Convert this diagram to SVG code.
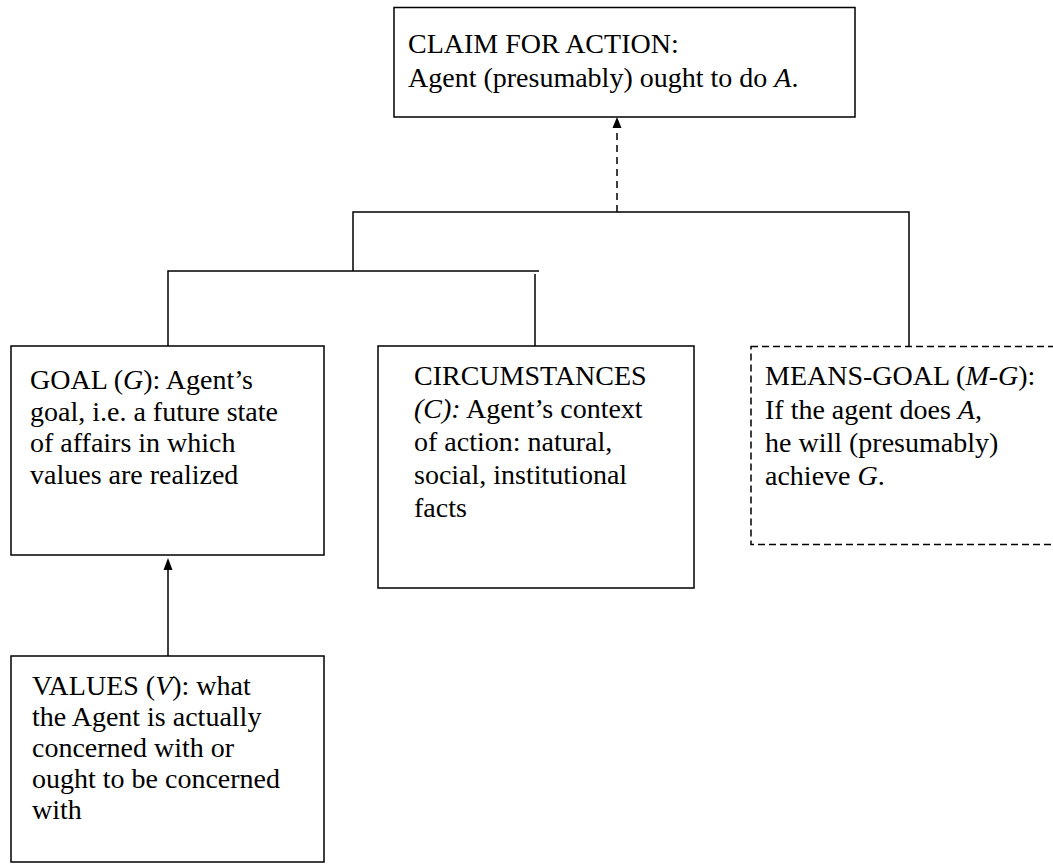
<svg xmlns="http://www.w3.org/2000/svg" width="1053" height="864" viewBox="0 0 1053 864">
<defs>
<style>
.box{fill:#fff;stroke:#000;stroke-width:1.5}
.dbox{fill:#fff;stroke:#000;stroke-width:1.5;stroke-dasharray:7 4}
.ln{fill:none;stroke:#000;stroke-width:1.5}
.dln{fill:none;stroke:#000;stroke-width:1.5;stroke-dasharray:7 5}
text{font-family:"Liberation Serif","Times New Roman",serif;font-size:28px;fill:#000}
.i{font-style:italic}
</style>
<marker id="ah" viewBox="0 0 10 12" refX="5" refY="0" markerWidth="10" markerHeight="12" markerUnits="userSpaceOnUse" orient="auto-start-reverse">
<path d="M0,12 L5,0 L10,12 Z" fill="#000"/>
</marker>
</defs>
<rect width="1053" height="864" fill="#fff"/>
<g id="connectors">
<path class="dln" d="M617,212 V119"/>
<path d="M617,117 L612.5,128 L621.5,128 Z" fill="#000"/>
<path class="ln" d="M353,271 V212 H909 V346"/>
<path class="ln" d="M168,346 V271 H539"/>
<path class="ln" d="M535,274 V346"/>
<path class="ln" d="M168,656 V568"/>
<path d="M168,558 L163.5,570 L172.5,570 Z" fill="#000"/>
</g>
<g id="claim">
<rect class="box" x="394" y="7.5" width="461" height="109.5"/>
<text x="408" y="53">CLAIM FOR ACTION:</text>
<text x="408" y="87">Agent (presumably) ought to do <tspan class="i">A</tspan>.</text>
</g>
<g id="goal">
<rect class="box" x="11" y="346" width="313" height="209"/>
<text x="30" y="389">GOAL (<tspan class="i">G</tspan>): Agent’s</text>
<text x="30" y="421">goal, i.e. a future state</text>
<text x="30" y="452">of affairs in which</text>
<text x="30" y="484">values are realized</text>
</g>
<g id="circumstances">
<rect class="box" x="378" y="346" width="316" height="242"/>
<text x="414" y="385">CIRCUMSTANCES</text>
<text x="414" y="418"><tspan class="i">(C):</tspan> Agent’s context</text>
<text x="414" y="451">of action: natural,</text>
<text x="414" y="484">social, institutional</text>
<text x="414" y="517">facts</text>
</g>
<g id="means-goal">
<rect class="dbox" x="751" y="346.5" width="315" height="198"/>
<text x="765" y="385">MEANS-GOAL (<tspan class="i">M-G</tspan>):</text>
<text x="765" y="419">If the agent does <tspan class="i">A</tspan>,</text>
<text x="765" y="452">he will (presumably)</text>
<text x="765" y="485">achieve <tspan class="i">G</tspan>.</text>
</g>
<g id="values">
<rect class="box" x="11" y="656" width="313" height="206"/>
<text x="32" y="695">VALUES (<tspan class="i">V</tspan>): what</text>
<text x="32" y="726">the Agent is actually</text>
<text x="32" y="757">concerned with or</text>
<text x="32" y="788">ought to be concerned</text>
<text x="32" y="819">with</text>
</g>
</svg>
